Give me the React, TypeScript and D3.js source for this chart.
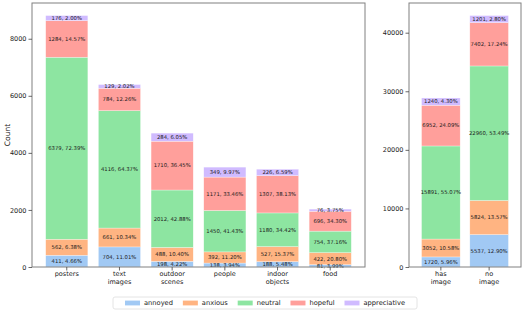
import React, { useEffect, useRef } from 'react';
import * as d3 from 'd3';

const emotions = ['annoyed', 'anxious', 'neutral', 'hopeful', 'appreciative'];
const colors = ['#a1c9f4', '#ffb482', '#8de5a1', '#ff9f9b', '#d0bbff'];

const categories = ['posters', 'text\nimages', 'outdoor\nscenes', 'people', 'indoor\nobjects', 'food'];
const annoyed = [411, 704, 198, 138, 188, 81];
const anxious = [562, 661, 488, 392, 527, 422];
const neutral = [6379, 4116, 2012, 1450, 1180, 754];
const hopeful = [1284, 784, 1710, 1171, 1307, 696];
const appreciative = [176, 129, 284, 349, 226, 76];
const leftTicks = [0, 2000, 4000, 6000, 8000];

const imageCats = ['has\nimage', 'no\nimage'];
const imgAnnoyed = [1720, 5537];
const imgAnxious = [3052, 5824];
const imgNeutral = [15891, 22960];
const imgHopeful = [6952, 7402];
const imgAppreciative = [1240, 1201];
const rightTicks = [0, 10000, 20000, 30000, 40000];

const W = 524;
const H = 313;
const FONT = 'DejaVu Sans';

type Row = { [k: string]: any };

function buildRows(cats: string[], series: number[][]): Row[] {
  return cats.map((c, i) => {
    const r: Row = { cat: c };
    emotions.forEach((e, j) => { r[e] = series[j][i]; });
    return r;
  });
}

function drawPanel(
  svg: d3.Selection<SVGSVGElement, unknown, null, undefined>,
  rows: Row[],
  ticks: number[],
  x0: number, x1: number, top: number, bottom: number
) {
  const g = svg.append('g');
  const totals = rows.map(r => emotions.reduce((s, e) => s + r[e], 0));
  const ymax = d3.max(totals)! * 1.05;

  const x = d3.scaleBand<string>()
    .domain(rows.map(r => r.cat))
    .range([x0, x1])
    .paddingInner(0.2)
    .paddingOuter(0.26);
  const y = d3.scaleLinear().domain([0, ymax]).range([bottom, top]);

  const stack = d3.stack<Row>().keys(emotions);
  const layers = stack(rows);

  layers.forEach((layer, li) => {
    g.selectAll(null)
      .data(layer)
      .enter()
      .append('rect')
      .attr('x', d => x(d.data.cat)!)
      .attr('y', d => y(d[1]))
      .attr('width', x.bandwidth())
      .attr('height', d => y(d[0]) - y(d[1]))
      .attr('fill', colors[li])
      .attr('stroke', '#ffffff')
      .attr('stroke-opacity', 0.6)
      .attr('stroke-width', 0.5);
  });

  // segment labels
  layers.forEach((layer, li) => {
    g.selectAll(null)
      .data(layer)
      .enter()
      .append('text')
      .attr('x', d => x(d.data.cat)! + x.bandwidth() / 2)
      .attr('y', d => (y(d[0]) + y(d[1])) / 2)
      .attr('dy', '0.35em')
      .attr('text-anchor', 'middle')
      .attr('font-family', FONT)
      .attr('font-size', 5.3)
      .attr('fill', '#1a1a1a')
      .text((d, i) => {
        const v = d.data[emotions[li]];
        return `${v}, ${(v / totals[i] * 100).toFixed(2)}%`;
      });
  });

  // frame
  g.append('rect')
    .attr('x', x0).attr('y', top)
    .attr('width', x1 - x0).attr('height', bottom - top)
    .attr('fill', 'none')
    .attr('stroke', '#808080')
    .attr('stroke-width', 1);

  // y axis
  const yAxis = d3.axisLeft(y).tickValues(ticks).tickSize(3.5).tickPadding(2).tickSizeOuter(0)
    .tickFormat(d => String(d));
  const ya = g.append('g').attr('transform', `translate(${x0},0)`).call(yAxis);
  ya.select('.domain').remove();
  ya.selectAll('line').attr('stroke', '#444').attr('stroke-width', 0.8);
  ya.selectAll('text').attr('font-family', FONT).attr('font-size', 6.5).attr('fill', '#222');

  // x axis
  const xAxis = d3.axisBottom(x).tickSize(3.5).tickSizeOuter(0).tickFormat(() => '');
  const xa = g.append('g').attr('transform', `translate(0,${bottom})`).call(xAxis);
  xa.select('.domain').remove();
  xa.selectAll('line').attr('stroke', '#444').attr('stroke-width', 0.8);
  rows.forEach(r => {
    const lines = r.cat.split('\n');
    const t = g.append('text')
      .attr('text-anchor', 'middle')
      .attr('font-family', FONT)
      .attr('font-size', 6.5)
      .attr('fill', '#222');
    lines.forEach((ln: string, i: number) => {
      t.append('tspan')
        .attr('x', x(r.cat)! + x.bandwidth() / 2)
        .attr('y', bottom + 9 + i * 8)
        .text(ln);
    });
  });
}

const App = () => {
  const ref = useRef<SVGSVGElement>(null);

  useEffect(() => {
    const svg = d3.select(ref.current!);
    svg.selectAll('*').remove();

    const top = 3, bottom = 267;
    drawPanel(svg, buildRows(categories, [annoyed, anxious, neutral, hopeful, appreciative]),
      leftTicks, 32, 365, top, bottom);
    drawPanel(svg, buildRows(imageCats, [imgAnnoyed, imgAnxious, imgNeutral, imgHopeful, imgAppreciative]),
      rightTicks, 409, 521, top, bottom);

    svg.append('text')
      .attr('transform', `translate(9.5,${(top + bottom) / 2}) rotate(-90)`)
      .attr('text-anchor', 'middle')
      .attr('font-family', FONT)
      .attr('font-size', 7.5)
      .attr('fill', '#222')
      .text('Count');

    // legend
    const lx0 = 113, lx1 = 417, ly0 = 297, ly1 = 309;
    const lg = svg.append('g');
    lg.append('rect')
      .attr('x', lx0).attr('y', ly0)
      .attr('width', lx1 - lx0).attr('height', ly1 - ly0)
      .attr('rx', 2)
      .attr('fill', '#fff')
      .attr('stroke', '#dddddd')
      .attr('stroke-width', 0.8);
    const ly = (ly0 + ly1) / 2;
    const handle = 15, textPad = 4, edgePad = 12;
    const texts = emotions.map(e => lg.append('text')
      .attr('font-family', FONT)
      .attr('font-size', 6.7)
      .attr('fill', '#222')
      .attr('dy', '0.35em')
      .attr('y', ly)
      .text(e));
    const widths = texts.map(t => (t.node() as SVGTextElement).getComputedTextLength());
    const used = widths.reduce((a, b) => a + b, 0) + emotions.length * (handle + textPad);
    const colSpace = (lx1 - lx0 - 2 * edgePad - used) / (emotions.length - 1);
    let cx = lx0 + edgePad;
    emotions.forEach((e, i) => {
      lg.append('rect')
        .attr('x', cx).attr('y', ly - 2.4)
        .attr('width', handle).attr('height', 4.8)
        .attr('fill', colors[i]);
      texts[i].attr('x', cx + handle + textPad);
      cx += handle + textPad + widths[i] + colSpace;
    });
  }, []);

  return (
    <svg
      ref={ref}
      width={W}
      height={H}
      style={{ position: 'absolute', left: 0, top: 0, background: '#fff' }}
    />
  );
};

export default App;
